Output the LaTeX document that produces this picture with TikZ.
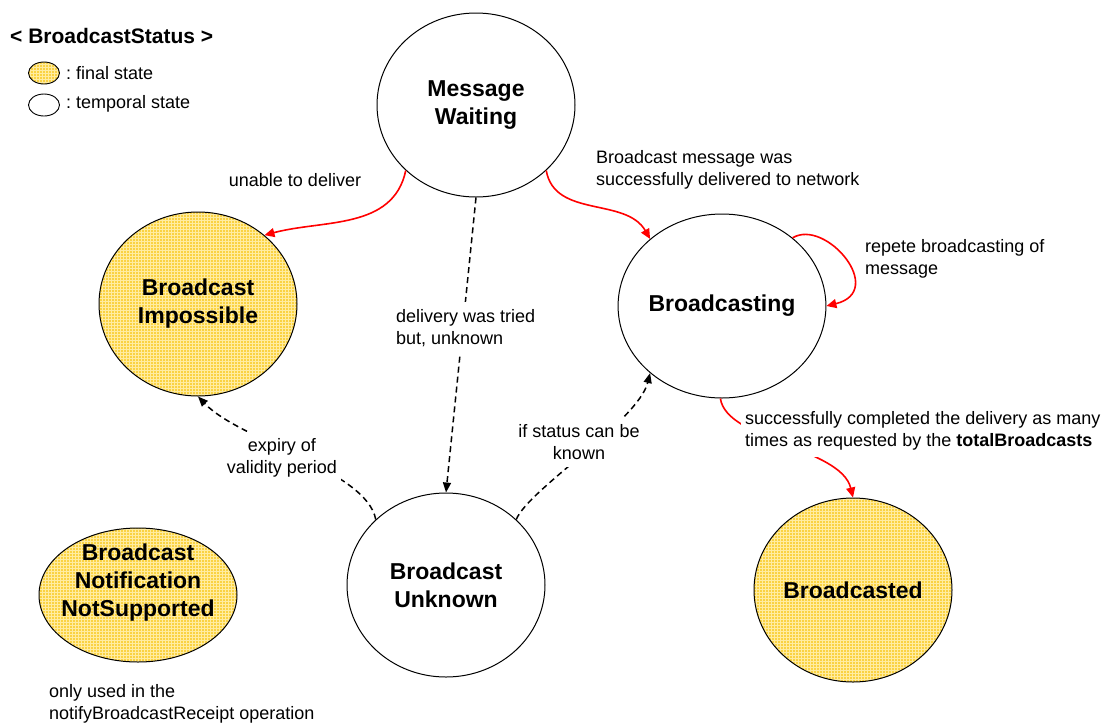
\documentclass[tikz,border=0pt]{standalone}
\usepackage{fontspec}
\setmainfont{Liberation Sans}
\usetikzlibrary{shapes.geometric,arrows.meta,patterns}
\definecolor{finalbase}{RGB}{250,210,66}
\definecolor{finalgrid}{RGB}{255,236,160}
\begin{document}
\begin{tikzpicture}[x=1pt,y=-1pt,
  state/.style={ellipse, draw=black, line width=1pt, minimum width=198pt, minimum height=184pt, inner sep=0pt, align=center, font=\fontsize{23}{28}\selectfont\bfseries},
  final/.style={state, preaction={fill=finalbase}, pattern=grid, pattern color=finalgrid},
  temp/.style={state, fill=white},
  legendshape/.style={ellipse, draw=black, line width=0.9pt, minimum width=31pt, minimum height=22pt, inner sep=0pt},
  lbl/.style={font=\fontsize{18}{22}\selectfont, inner sep=0pt, align=left},
  boxlbl/.style={lbl, fill=white, inner xsep=4pt, inner ysep=7pt},
  redarrow/.style={draw=red, line width=1.6pt, -{Triangle[length=10pt,width=9pt]}},
  dasharrow/.style={draw=black, line width=1.5pt, dash pattern=on 6pt off 4pt, -{Triangle[length=10pt,width=8pt]}}
]
\useasboundingbox (0,0) rectangle (1106,724);

% legend
\node[font=\fontsize{21}{25}\selectfont\bfseries, anchor=west, inner sep=0pt] (title) at (10,36) {< BroadcastStatus >};
\node[legendshape, preaction={fill=finalbase}, pattern=grid, pattern color=finalgrid] (lgf) at (44,73) {};
\node[legendshape, fill=white] (lgt) at (44,105) {};
\node[lbl, anchor=west] (lgft) at (66,73) {:\ final state};
\node[lbl, anchor=west] (lgtt) at (66,104) {:\ temporal state};

% states
\node[temp] (mw) at (476,105) {Message\\Waiting};
\node[final] (imp) at (198,304) {Broadcast\\Impossible};
\node[temp] (bc) at (722,306) {Broadcasting};
\node[temp] (unk) at (446,585) {Broadcast\\Unknown};
\node[final] (bcd) at (853,590) {Broadcasted};
\node[final, minimum height=134pt] (ns) at (138,595) {};
\node[font=\fontsize{23}{28}\selectfont\bfseries, align=center, inner sep=0pt] (nstext) at (138,583) {Broadcast\\Notification\\NotSupported};

% connectors
\draw[redarrow] (mw.223) to[out=258,in=15] (imp.46);
\draw[redarrow] (mw.317) to[out=280,in=120] (bc.137);
\draw[redarrow] (bc.44) .. controls +(33,-20) and +(61,-15) .. (bc.east);
\draw[redarrow] (bc.269) .. controls +(6,42) and +(-12,-50) .. (bcd.north);
\draw[dasharrow] (mw.south) -- (unk.north);
\draw[dasharrow] (unk.137) .. controls +(-9,-49) and +(42,44) .. (imp.south);
\draw[dasharrow] (unk.43) .. controls +(12,-30) and +(-12,48) .. (bc.223);

% labels
\node[lbl, align=center] (l1) at (295,180) {unable to deliver};
\node[lbl, anchor=west] (l2) at (596,170) {Broadcast message was\\successfully delivered to network};
\node[lbl, anchor=west] (l3) at (865,259) {repete broadcasting of\\message};
\node[boxlbl, anchor=west] (l4) at (392,328) {delivery was tried\\but, unknown};
\node[boxlbl, align=center] (l5) at (282,458) {expiry of\\validity period};
\node[boxlbl, align=center] (l6) at (579,442) {if status can be\\known};
\node[boxlbl, anchor=west] (l7) at (741,431) {successfully completed the delivery as many\\times as requested by the \textbf{totalBroadcasts}};
\node[lbl, anchor=west] (l8) at (49,704) {only used in the\\notifyBroadcastReceipt operation};
\end{tikzpicture}
\end{document}
